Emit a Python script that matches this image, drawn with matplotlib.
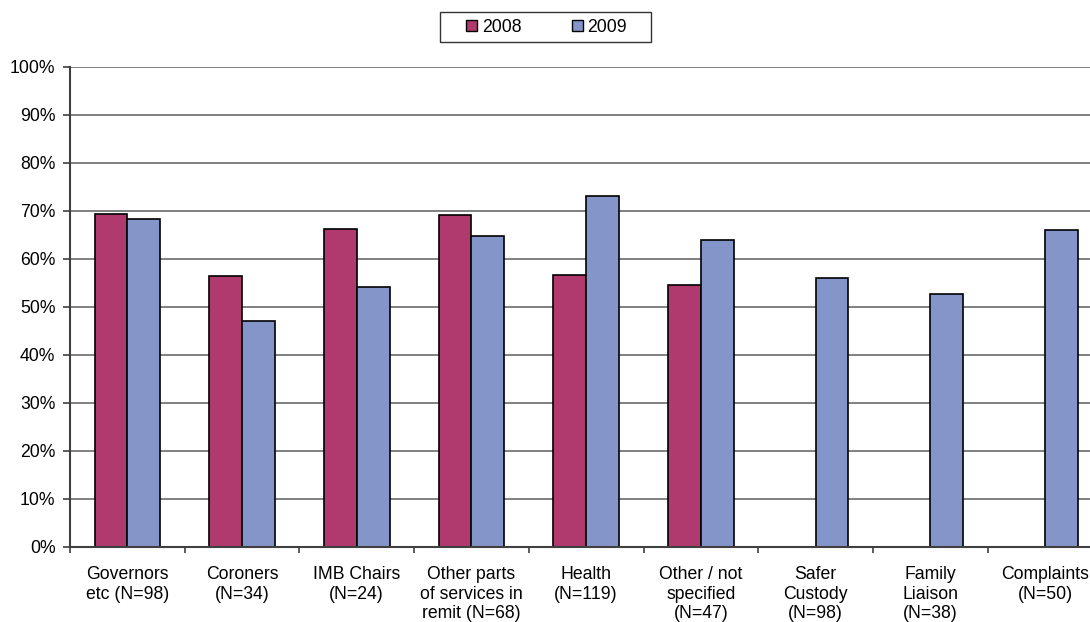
import numpy as np
import matplotlib
matplotlib.use("Agg")
import matplotlib.pyplot as plt
from matplotlib.patches import Rectangle
from matplotlib.path import Path
from matplotlib.legend_handler import HandlerPatch
from matplotlib.ticker import FixedLocator, PercentFormatter

plt.rcParams['font.family'] = ['Liberation Sans', 'DejaVu Sans']

# ---- data -------------------------------------------------------------
categories = [
    "Governors\netc (N=98)",
    "Coroners\n(N=34)",
    "IMB Chairs\n(N=24)",
    "Other parts\nof services in\nremit (N=68)",
    "Health\n(N=119)",
    "Other / not\nspecified\n(N=47)",
    "Safer\nCustody\n(N=98)",
    "Family\nLiaison\n(N=38)",
    "Complaints\n(N=50)",
]
series_names = ["2008", "2009"]
values_2008 = [69.4, 56.3, 66.1, 69.2, 56.5, 54.5, np.nan, np.nan, np.nan]
values_2009 = [68.3, 47.0, 54.2, 64.7, 73.1, 63.8, 56.0, 52.6, 65.9]
y_ticks = [0, 10, 20, 30, 40, 50, 60, 70, 80, 90, 100]

colors = ["#B03A6E", "#8496C9"]

# ---- figure / axes ----------------------------------------------------
W, H = 1090, 622
fig = plt.figure(figsize=(W / 100, H / 100), dpi=100)
fig.patch.set_facecolor("white")

n = len(categories)
cat_px = 114.7
left_px, top_px, bottom_px = 70, 66.7, 546.7
ax = fig.add_axes([left_px / W, (H - bottom_px) / H,
                   n * cat_px / W, (bottom_px - top_px) / H])

x = np.arange(n)
bar_w = 1 / 3.5
fs = 12.7

for vals, off, col, name in [(values_2008, -bar_w / 2, colors[0], series_names[0]),
                             (values_2009, bar_w / 2, colors[1], series_names[1])]:
    vals = np.asarray(vals, dtype=float)
    ok = ~np.isnan(vals)
    ax.bar(x[ok] + off, vals[ok], width=bar_w, color=col,
           edgecolor="black", linewidth=1.2, label=name, zorder=3)

ax.set_xlim(-0.5, n - 0.5)
ax.set_ylim(0, 100)

# y axis
ax.yaxis.set_major_locator(FixedLocator(y_ticks))
ax.yaxis.set_major_formatter(PercentFormatter(decimals=0))
ax.grid(axis="y", color="#808080", linewidth=1.4, zorder=0)
ax.tick_params(axis="y", direction="out", length=5, width=1.2,
               color="#404040", pad=5.5, labelsize=fs)

# x axis: boundary ticks, labels at category centres
ax.xaxis.set_major_locator(FixedLocator(np.arange(n + 1) - 0.5))
ax.xaxis.set_minor_locator(FixedLocator(x))
ax.set_xticklabels([""] * (n + 1))
ax.set_xticklabels(categories, minor=True)
ax.tick_params(axis="x", which="major", direction="out", length=4.5,
               width=1.2, color="#404040")
ax.tick_params(axis="x", which="minor", length=0, pad=14, labelsize=fs)

for s in ("top", "right"):
    ax.spines[s].set_visible(False)
for s in ("left", "bottom"):
    ax.spines[s].set_color("#404040")
    ax.spines[s].set_linewidth(1.5)
    ax.spines[s].set_zorder(4)


# legend with small square keys placed at the right of the key area
def square_key(legend, orig_handle, xdescent, ydescent, width, height, fontsize):
    s = 11 * 72 / 100
    return Rectangle((width - s - xdescent, -ydescent + (height - s) / 2), s, s)


def frame_with_right_margin(x0, y0, width, height, mutation_size):
    extra = 1.0 * mutation_size
    x1, y1 = x0 + width + extra, y0 + height
    return Path([(x0, y0), (x1, y0), (x1, y1), (x0, y1), (x0, y0)],
                closed=True)


handler = HandlerPatch(patch_func=square_key)
keys = [Rectangle((0, 0), 1, 1, facecolor=c, edgecolor="black", linewidth=1.0)
        for c in colors]
leg = fig.legend(keys, series_names, loc="center",
                 bbox_to_anchor=(536.8 / W, 1 - 27 / H),
                 ncol=2, fontsize=fs, frameon=True, fancybox=False,
                 edgecolor="black", borderpad=0.35, handlelength=1.75,
                 handleheight=0.6, handletextpad=0.27, columnspacing=1.7,
                 handler_map={Rectangle: handler})
leg.get_frame().set_linewidth(1.0)
leg.get_frame().set_boxstyle(frame_with_right_margin)

fig.savefig("out.png", dpi=100)
